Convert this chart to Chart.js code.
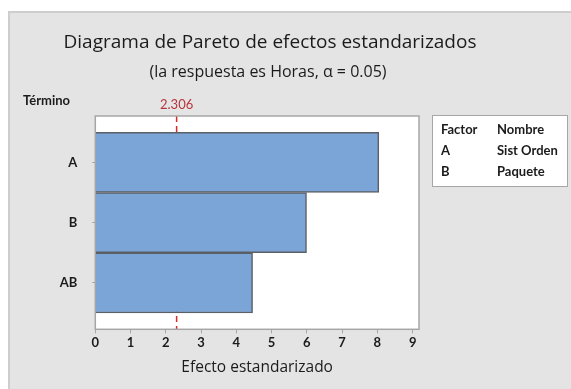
<!DOCTYPE html>
<html>
<head>
<meta charset="utf-8">
<script src="https://cdn.jsdelivr.net/npm/chart.js@4"></script>
<style>
  html, body { margin: 0; padding: 0; background: #ffffff; }
  #wrap { position: relative; width: 571px; height: 389px; overflow: hidden; }
  #panel { position: absolute; left: 8px; top: 11px; right: -2px; bottom: -2px;
           background: #e4e4e4; border: 2px solid #cdcdcd; }
  canvas { position: absolute; left: 0; top: 0; }
</style>
</head>
<body>
<div id="wrap">
  <div id="panel"></div>
  <canvas id="c" width="571" height="389"></canvas>
</div>
<script>
// Standardized effects, ordered from largest to smallest
const terms = ['A', 'B', 'AB'];
const effects = [8.04, 5.99, 4.46];
const xTicks = [0, 1, 2, 3, 4, 5, 6, 7, 8, 9];
const criticalValue = 2.306;
const factorCodes = ['A', 'B'];
const factorNames = ['Sist Orden', 'Paquete'];

const TEXT = '#1b1b1b';
const LABEL_FONT = 'Lato';
const TITLE_FONT = '"Open Sans"';

// Plot frame, reference line and all annotation text
const decorations = {
  id: 'decorations',
  beforeDatasetsDraw(chart) {
    const { ctx, chartArea: a, scales } = chart;
    ctx.save();
    ctx.fillStyle = '#ffffff';
    ctx.fillRect(a.left, a.top, a.right - a.left, a.bottom - a.top);
    // critical value line, behind the bars
    const xc = scales.x.getPixelForValue(criticalValue);
    ctx.strokeStyle = '#d42a2a';
    ctx.lineWidth = 1.5;
    ctx.setLineDash([6, 4]);
    ctx.beginPath();
    ctx.moveTo(xc, a.top);
    ctx.lineTo(xc, a.bottom);
    ctx.stroke();
    ctx.restore();
  },
  afterDatasetsDraw(chart) {
    const { ctx, chartArea: a, scales } = chart;
    const xc = scales.x.getPixelForValue(criticalValue);
    ctx.save();
    // plot frame
    ctx.strokeStyle = '#a6a6a6';
    ctx.lineWidth = 1.5;
    ctx.strokeRect(a.left, a.top, a.right - a.left, a.bottom - a.top);

    ctx.textBaseline = 'middle';
    // critical value label
    ctx.fillStyle = '#b8343c';
    ctx.font = '13px ' + LABEL_FONT;
    ctx.textAlign = 'center';
    ctx.fillText(criticalValue.toFixed(3), xc, 105);

    // titles
    ctx.fillStyle = TEXT;
    ctx.font = '19px ' + TITLE_FONT;
    ctx.fillText('Diagrama de Pareto de efectos estandarizados', 270, 43);
    ctx.font = '16px ' + TITLE_FONT;
    ctx.fillText('(la respuesta es Horas, \u03B1 = 0.05)', 268, 72);

    // axis caption
    ctx.textAlign = 'left';
    ctx.font = 'bold 13px ' + LABEL_FONT;
    ctx.fillText('T\u00E9rmino', 23, 101);

    // factor table
    const bx = 432, by = 115, bw = 135, bh = 71;
    ctx.fillStyle = '#ffffff';
    ctx.fillRect(bx, by, bw, bh);
    ctx.strokeStyle = '#a6a6a6';
    ctx.lineWidth = 1;
    ctx.strokeRect(bx + 0.5, by + 0.5, bw, bh);
    ctx.fillStyle = TEXT;
    ctx.font = 'bold 13px ' + LABEL_FONT;
    const rowY = [130, 151, 172];
    ctx.fillText('Factor', 441, rowY[0]);
    ctx.fillText('Nombre', 497, rowY[0]);
    factorCodes.forEach((code, i) => {
      ctx.fillText(code, 441, rowY[i + 1]);
      ctx.fillText(factorNames[i], 497, rowY[i + 1]);
    });
    ctx.restore();
  }
};

new Chart(document.getElementById('c'), {
  type: 'bar',
  data: {
    datasets: [{
      data: effects.map((v, i) => ({ x: v, y: i })),
      backgroundColor: '#7ba5d7',
      borderColor: '#5b5f66',
      borderWidth: 1.5,
      barPercentage: 1,
      categoryPercentage: 1
    }]
  },
  options: {
    indexAxis: 'y',
    responsive: false,
    animation: false,
    layout: { padding: { left: 0, right: 152, top: 116, bottom: 12.6 } },
    plugins: { legend: { display: false }, tooltip: { enabled: false } },
    scales: {
      x: {
        type: 'linear',
        min: 0,
        max: 9.18,
        afterBuildTicks: (s) => { s.ticks = xTicks.map(v => ({ value: v })); },
        afterFit: (s) => { s.height = 47.1; },
        grid: { drawOnChartArea: false, drawTicks: true, tickLength: 4, color: '#a6a6a6' },
        border: { display: false },
        ticks: { color: TEXT, font: { family: LABEL_FONT, size: 13, weight: 'bold' }, padding: 2, maxRotation: 0 },
        title: { display: true, text: 'Efecto estandarizado', color: TEXT,
                 font: { family: TITLE_FONT, size: 15.5 }, padding: 0 }
      },
      y: {
        type: 'linear',
        reverse: true,
        offset: false,
        min: -0.77,
        max: 2.77,
        afterBuildTicks: (s) => { s.ticks = terms.map((t, i) => ({ value: i })); },
        afterFit: (s) => { s.width = 95.3; },
        grid: { drawOnChartArea: false, drawTicks: true, tickLength: 3, color: '#a6a6a6', offset: false },
        border: { display: false },
        ticks: { color: TEXT, font: { family: LABEL_FONT, size: 13, weight: 'bold' }, padding: 15,
                 callback: (v) => terms[v] }
      }
    }
  },
  plugins: [decorations]
});
</script>
</body>
</html>
